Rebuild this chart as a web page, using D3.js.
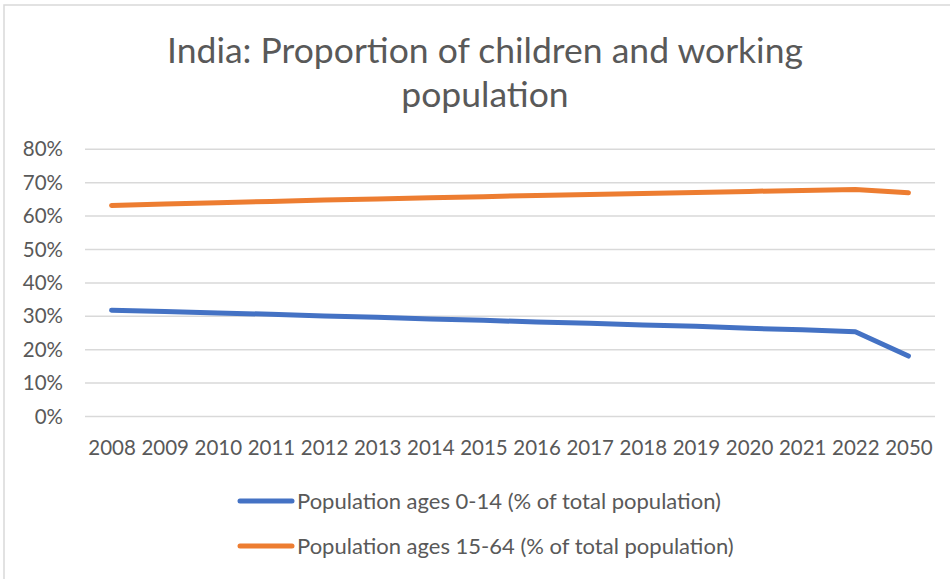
<!DOCTYPE html>
<html>
<head>
<meta charset="utf-8">
<script src="https://cdn.jsdelivr.net/npm/d3@7"></script>
<style>
  html, body { margin: 0; padding: 0; background: #fff; }
  svg { display: block; }
  text { font-family: Lato, "Open Sans", sans-serif; fill: #595959; }
</style>
</head>
<body>
<svg id="chart" width="950" height="579"></svg>
<script>
// Category labels along the x axis
const years = ["2008","2009","2010","2011","2012","2013","2014","2015",
               "2016","2017","2018","2019","2020","2021","2022","2050"];

// Share of total population (%)
const ages0to14 = [31.8, 31.4, 31.0, 30.6, 30.1, 29.7, 29.2, 28.8,
                   28.3, 27.9, 27.4, 27.0, 26.4, 26.0, 25.4, 18.1];
const ages15to64 = [63.2, 63.6, 64.0, 64.4, 64.8, 65.1, 65.5, 65.8,
                    66.2, 66.5, 66.8, 67.1, 67.4, 67.7, 68.0, 67.0];

const yTicks = [0, 10, 20, 30, 40, 50, 60, 70, 80];

const seriesNames = ["Population ages 0-14 (% of total population)",
                     "Population ages 15-64 (% of total population)"];
const seriesColors = ["#4472C4", "#ED7D31"];

const titleLines = ["India: Proportion of children and working", "population"];

const series = [ages0to14, ages15to64].map((values, i) => ({
  name: seriesNames[i],
  color: seriesColors[i],
  values: values.map((v, j) => ({ year: years[j], value: v }))
}));

const svg = d3.select("#chart");

// Outer chart frame
svg.append("rect")
  .attr("x", 4).attr("y", 5)
  .attr("width", 1000).attr("height", 700)
  .attr("fill", "#fff")
  .attr("stroke", "#D9D9D9")
  .attr("stroke-width", 1.5);

const plot = { left: 85, right: 935, top: 149.3, bottom: 416.5 };

const x = d3.scalePoint()
  .domain(years)
  .range([plot.left, plot.right])
  .padding(0.5);

const y = d3.scaleLinear()
  .domain([0, 80])
  .range([plot.bottom, plot.top]);

// Title
svg.append("text")
  .attr("text-anchor", "middle")
  .attr("font-size", 35.5)
  .attr("font-weight", 400)
  .selectAll("tspan")
  .data(titleLines)
  .join("tspan")
  .attr("x", 485)
  .attr("y", (d, i) => 63 + i * 44)
  .text(d => d);

// Horizontal gridlines
svg.append("g")
  .selectAll("line")
  .data(yTicks)
  .join("line")
  .attr("x1", plot.left).attr("x2", plot.right)
  .attr("y1", d => y(d)).attr("y2", d => y(d))
  .attr("stroke", "#D9D9D9")
  .attr("stroke-width", 1.5);

// Y axis labels
const yAxis = d3.axisLeft(y)
  .tickValues(yTicks)
  .tickFormat(d => d + "%")
  .tickSize(0)
  .tickPadding(22);
const gy = svg.append("g")
  .attr("transform", `translate(${plot.left},0)`)
  .call(yAxis);
gy.select(".domain").remove();
gy.selectAll("text")
  .attr("font-size", 20.5)
  .attr("font-family", "Lato, sans-serif")
  .attr("fill", "#595959");

// X axis labels
const xAxis = d3.axisBottom(x).tickSize(0).tickPadding(24);
const gx = svg.append("g")
  .attr("transform", `translate(0,${plot.bottom})`)
  .call(xAxis);
gx.select(".domain").remove();
gx.selectAll("text")
  .attr("font-size", 20.5)
  .attr("font-family", "Lato, sans-serif")
  .attr("fill", "#595959");

// Series lines
const line = d3.line()
  .x(d => x(d.year))
  .y(d => y(d.value));

svg.append("g")
  .selectAll("path")
  .data(series)
  .join("path")
  .attr("d", d => line(d.values))
  .attr("fill", "none")
  .attr("stroke", d => d.color)
  .attr("stroke-width", 5)
  .attr("stroke-linecap", "round")
  .attr("stroke-linejoin", "round");

// Legend
const legend = svg.append("g")
  .selectAll("g")
  .data(series)
  .join("g")
  .attr("transform", (d, i) => `translate(240,${501 + i * 45})`);

legend.append("line")
  .attr("x1", 0).attr("x2", 52)
  .attr("y1", 0).attr("y2", 0)
  .attr("stroke", d => d.color)
  .attr("stroke-width", 5)
  .attr("stroke-linecap", "round");

legend.append("text")
  .attr("x", 57)
  .attr("y", 0)
  .attr("dy", "0.35em")
  .attr("font-size", 22)
  .text(d => d.name);
</script>
</body>
</html>
